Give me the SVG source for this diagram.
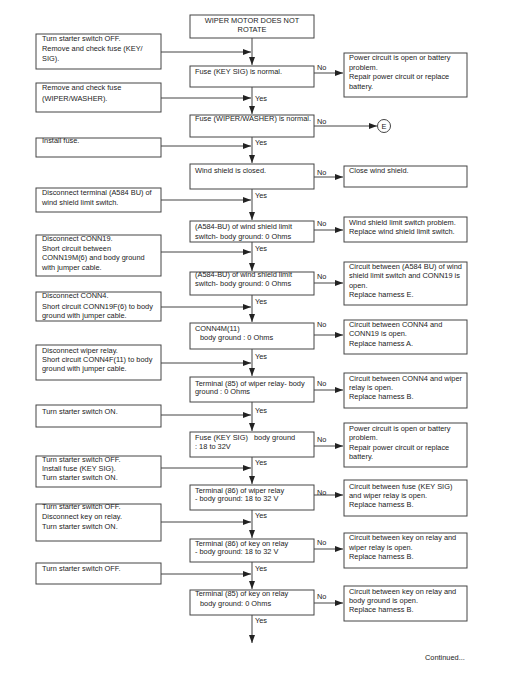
<svg xmlns="http://www.w3.org/2000/svg" width="525" height="675" viewBox="0 0 525 675">
<style>
text{font-family:"Liberation Sans",Arial,sans-serif;font-size:7.4px;fill:#222;white-space:pre}
.b{fill:#fff;stroke:#444;stroke-width:1}
.c{stroke:#444;stroke-width:1;fill:none}
.m{text-anchor:middle}
</style>
<defs>
<marker id="ah" markerUnits="userSpaceOnUse" markerWidth="8" markerHeight="6" refX="8" refY="3" orient="auto">
<path d="M0,0 L8,3 L0,6 z" fill="#222"/>
</marker>
</defs>
<rect width="525" height="675" fill="#fff"/>
<g id="connectors">
<path class="c" d="M252,38 V65" marker-end="url(#ah)"/>
<path class="c" d="M252,87 V114" marker-end="url(#ah)"/>
<path class="c" d="M252,137 V163" marker-end="url(#ah)"/>
<path class="c" d="M252,189 V220" marker-end="url(#ah)"/>
<path class="c" d="M252,242 V271" marker-end="url(#ah)"/>
<path class="c" d="M252,295 V322" marker-end="url(#ah)"/>
<path class="c" d="M252,349 V376" marker-end="url(#ah)"/>
<path class="c" d="M252,402 V431" marker-end="url(#ah)"/>
<path class="c" d="M252,457 V484" marker-end="url(#ah)"/>
<path class="c" d="M252,510 V538" marker-end="url(#ah)"/>
<path class="c" d="M252,562 V589" marker-end="url(#ah)"/>
<path class="c" d="M252,615 V643" marker-end="url(#ah)"/>
<path class="c" d="M161,52 H251" marker-end="url(#ah)"/>
<path class="c" d="M161,98 H251" marker-end="url(#ah)"/>
<path class="c" d="M161,146 H251" marker-end="url(#ah)"/>
<path class="c" d="M161,200 H251" marker-end="url(#ah)"/>
<path class="c" d="M161,252 H251" marker-end="url(#ah)"/>
<path class="c" d="M161,307 H251" marker-end="url(#ah)"/>
<path class="c" d="M161,363 H251" marker-end="url(#ah)"/>
<path class="c" d="M161,415 H251" marker-end="url(#ah)"/>
<path class="c" d="M161,468 H251" marker-end="url(#ah)"/>
<path class="c" d="M161,522 H251" marker-end="url(#ah)"/>
<path class="c" d="M161,574 H251" marker-end="url(#ah)"/>
<path class="c" d="M314,73 H343" marker-end="url(#ah)"/>
<path class="c" d="M314,126 H377" marker-end="url(#ah)"/>
<path class="c" d="M314,177 H343" marker-end="url(#ah)"/>
<path class="c" d="M314,230 H343" marker-end="url(#ah)"/>
<path class="c" d="M314,283 H343" marker-end="url(#ah)"/>
<path class="c" d="M314,335 H343" marker-end="url(#ah)"/>
<path class="c" d="M314,390 H343" marker-end="url(#ah)"/>
<path class="c" d="M314,446 H343" marker-end="url(#ah)"/>
<path class="c" d="M314,495 H343" marker-end="url(#ah)"/>
<path class="c" d="M314,549 H343" marker-end="url(#ah)"/>
<path class="c" d="M314,603 H343" marker-end="url(#ah)"/>
<text x="255" y="101">Yes</text>
<text x="255" y="145">Yes</text>
<text x="255" y="198">Yes</text>
<text x="255" y="251">Yes</text>
<text x="255" y="304">Yes</text>
<text x="255" y="359">Yes</text>
<text x="255" y="413">Yes</text>
<text x="255" y="465">Yes</text>
<text x="255" y="518">Yes</text>
<text x="255" y="571">Yes</text>
<text x="255" y="623">Yes</text>
<text x="317" y="70">No</text>
<text x="317" y="124">No</text>
<text x="317" y="175">No</text>
<text x="317" y="226">No</text>
<text x="317" y="279">No</text>
<text x="317" y="327">No</text>
<text x="317" y="386">No</text>
<text x="317" y="442">No</text>
<text x="317" y="495">No</text>
<text x="317" y="545">No</text>
<text x="317" y="599">No</text>
</g>
<g id="start"><rect class="b" x="190" y="15" width="124" height="23"/><text class="m" x="252" y="23">WIPER MOTOR DOES NOT</text><text class="m" x="252" y="32">ROTATE</text></g>
<g id="c1"><rect class="b" x="190" y="66" width="124" height="21"/><text x="195" y="74">Fuse (KEY SIG) is normal.</text></g>
<g id="c2"><rect class="b" x="190" y="115" width="124" height="22"/><text x="195" y="121">Fuse (WIPER/WASHER) is normal.</text></g>
<g id="c3"><rect class="b" x="190" y="164" width="124" height="25"/><text x="195" y="173">Wind shield is closed.</text></g>
<g id="c4"><rect class="b" x="190" y="221" width="124" height="21"/><text x="195" y="228.5">(A584-BU) of wind shield limit</text><text x="195" y="238.5">switch- body ground: 0 Ohms</text></g>
<g id="c5"><rect class="b" x="190" y="272" width="124" height="23"/><text x="195" y="277">(A584-BU) of wind shield limit</text><text x="195" y="286">switch- body ground: 0 Ohms</text></g>
<g id="c6"><rect class="b" x="190" y="323" width="124" height="26"/><text x="195" y="331">CONN4M(11)</text><text x="200" y="340">body ground : 0 Ohms</text></g>
<g id="c7"><rect class="b" x="190" y="377" width="124" height="25"/><text x="195" y="386">Terminal (85) of wiper relay- body</text><text x="195" y="394">ground : 0 Ohms</text></g>
<g id="c8"><rect class="b" x="190" y="432" width="124" height="25"/><text x="195" y="440">Fuse (KEY SIG)   body ground</text><text x="195" y="449">: 18 to 32V</text></g>
<g id="c9"><rect class="b" x="190" y="485" width="124" height="25"/><text x="195" y="493">Terminal (86) of wiper relay</text><text x="195" y="501">- body ground: 18 to 32 V</text></g>
<g id="c10"><rect class="b" x="190" y="539" width="124" height="23"/><text x="195" y="546">Terminal (86) of key on relay</text><text x="195" y="554">- body ground: 18 to 32 V</text></g>
<g id="c11"><rect class="b" x="190" y="590" width="124" height="25"/><text x="195" y="596">Terminal (85) of key on relay</text><text x="200" y="606">body ground: 0 Ohms</text></g>
<g id="r1"><rect class="b" x="344" y="53" width="123" height="44"/><text x="349" y="60">Power circuit is open or battery</text><text x="349" y="70">problem.</text><text x="349" y="79">Repair power circuit or replace</text><text x="349" y="89">battery.</text></g>
<g id="e"><circle cx="384" cy="126" r="6.5" fill="#fff" stroke="#444" stroke-width="1"/><text class="m" x="384" y="129">E</text></g>
<g id="r2"><rect class="b" x="344" y="166" width="123" height="21"/><text x="349" y="173">Close wind shield.</text></g>
<g id="r3"><rect class="b" x="344" y="217" width="123" height="25"/><text x="349" y="225">Wind shield limit switch problem.</text><text x="349" y="234">Replace wind shield limit switch.</text></g>
<g id="r4"><rect class="b" x="344" y="262" width="123" height="43"/><text x="349" y="269">Circuit between (A584 BU) of wind</text><text x="349" y="278">shield limit switch and CONN19 is</text><text x="349" y="288">open.</text><text x="349" y="297">Replace harness E.</text></g>
<g id="r5"><rect class="b" x="344" y="320" width="123" height="34"/><text x="349" y="327">Circuit between CONN4 and</text><text x="349" y="336">CONN19 is open.</text><text x="349" y="346">Replace harness A.</text></g>
<g id="r6"><rect class="b" x="344" y="373" width="123" height="35"/><text x="349" y="381">Circuit between CONN4 and wiper</text><text x="349" y="390">relay is open.</text><text x="349" y="399">Replace harness B.</text></g>
<g id="r7"><rect class="b" x="344" y="423" width="123" height="44"/><text x="349" y="431">Power circuit is open or battery</text><text x="349" y="440">problem.</text><text x="349" y="450">Repair power circuit or replace</text><text x="349" y="459">battery.</text></g>
<g id="r8"><rect class="b" x="344" y="480" width="123" height="36"/><text x="349" y="489">Circuit between fuse (KEY SIG)</text><text x="349" y="498">and wiper relay is open.</text><text x="349" y="507">Replace harness B.</text></g>
<g id="r9"><rect class="b" x="344" y="533" width="123" height="35"/><text x="349" y="540">Circuit between key on relay and</text><text x="349" y="550">wiper relay is open.</text><text x="349" y="559">Replace harness B.</text></g>
<g id="r10"><rect class="b" x="344" y="586" width="123" height="35"/><text x="349" y="594">Circuit between key on relay and</text><text x="349" y="603">body ground is open.</text><text x="349" y="612">Replace harness B.</text></g>
<g id="l1"><rect class="b" x="36" y="34" width="125" height="35"/><text x="42" y="41">Turn starter switch OFF.</text><text x="42" y="51">Remove and check fuse (KEY/</text><text x="42" y="61">SIG).</text></g>
<g id="l2"><rect class="b" x="36" y="83" width="125" height="29"/><text x="42" y="90">Remove and check fuse</text><text x="42" y="101">(WIPER/WASHER).</text></g>
<g id="l3"><rect class="b" x="36" y="138" width="125" height="19"/><text x="42" y="143">Install fuse.</text></g>
<g id="l4"><rect class="b" x="36" y="188" width="125" height="24"/><text x="42" y="195">Disconnect terminal (A584 BU) of</text><text x="42" y="205">wind shield limit switch.</text></g>
<g id="l5"><rect class="b" x="36" y="235" width="125" height="41"/><text x="42" y="241">Disconnect CONN19.</text><text x="42" y="251">Short circuit between</text><text x="42" y="260">CONN19M(6) and body ground</text><text x="42" y="270">with jumper cable.</text></g>
<g id="l6"><rect class="b" x="36" y="292" width="125" height="29"/><text x="42" y="298">Disconnect CONN4.</text><text x="42" y="309">Short circuit CONN19F(6) to body</text><text x="42" y="318">ground with jumper cable.</text></g>
<g id="l7"><rect class="b" x="36" y="345" width="125" height="35"/><text x="42" y="353">Disconnect wiper relay.</text><text x="42" y="362">Short circuit CONN4F(11) to body</text><text x="42" y="371">ground with jumper cable.</text></g>
<g id="l8"><rect class="b" x="36" y="405" width="125" height="22"/><text x="42" y="414">Turn starter switch ON.</text></g>
<g id="l9"><rect class="b" x="36" y="456" width="125" height="31"/><text x="42" y="462">Turn starter switch OFF.</text><text x="42" y="471">Install fuse (KEY SIG).</text><text x="42" y="480">Turn starter switch ON.</text></g>
<g id="l10"><rect class="b" x="36" y="504" width="125" height="37"/><text x="42" y="509">Turn starter switch OFF.</text><text x="42" y="519">Disconnect key on relay.</text><text x="42" y="529">Turn starter switch ON.</text></g>
<g id="l11"><rect class="b" x="36" y="563" width="125" height="21"/><text x="42" y="571">Turn starter switch OFF.</text></g>
<text x="425" y="660">Continued...</text>
</svg>
